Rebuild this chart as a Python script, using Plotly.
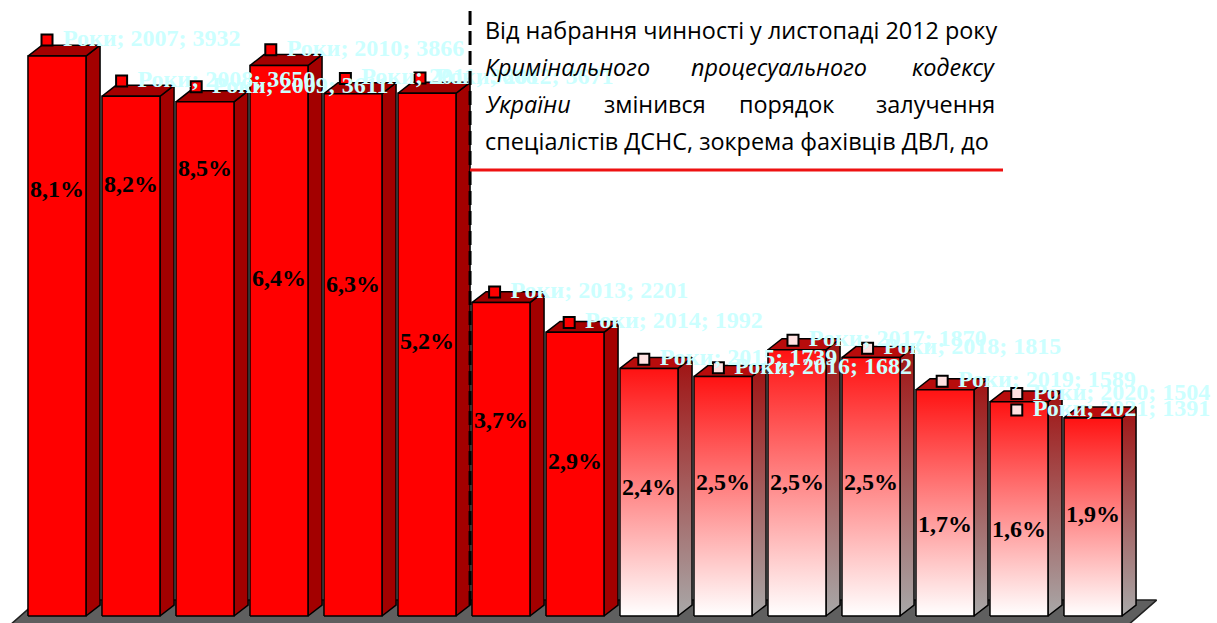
import plotly.graph_objects as go

# ---------------- data ----------------
years = [2007, 2008, 2009, 2010, 2011, 2012, 2013, 2014, 2015, 2016, 2017, 2018, 2019, 2020, 2021]
cases = [3932, 3650, 3611, 3866, 3668, 3671, 2201, 1992, 1739, 1682, 1870, 1815, 1589, 1504, 1391]
share_pct = [8.1, 8.2, 8.5, 6.4, 6.3, 5.2, 3.7, 2.9, 2.4, 2.5, 2.5, 2.5, 1.7, 1.6, 1.9]
share_labels = ["8,1%", "8,2%", "8,5%", "6,4%", "6,3%", "5,2%", "3,7%", "2,9%",
                "2,4%", "2,5%", "2,5%", "2,5%", "1,7%", "1,6%", "1,9%"]
label_slots = [0, 1, 2, 3, 4, 5, 6, 7, 8, 9, 10, 11, 12, 13, 13]
series_name = "Роки"
reform_year = 2012
gradient_from_year = 2015

note_line1 = "Від набрання чинності у листопаді 2012 року"
note_line2 = ["Кримінального", "процесуального", "кодексу"]
note_line3 = ["України", "змінився", "порядок", "залучення"]
note_line4 = "спеціалістів ДСНС, зокрема фахівців ДВЛ, до"

# ---------------- style ----------------
W, H = 1217, 623
bar_w = 0.784
depth_x = 0.19
depth_y = 77
RED = "#FF0000"
DARK = "#A30000"
EDGE = "black"

fig = go.Figure()
n = len(cases)

# floor
fx0, fx1 = -0.5 - 0.18, n - 0.5 - 0.07
fdx = 0.43
fy0, fy1 = -84, 112
fig.add_trace(go.Scatter(
    x=[fx0, fx1, fx1 + fdx, fx0 + fdx, fx0],
    y=[fy0, fy0, fy1, fy1, fy0],
    fill="toself", fillcolor="#5F5F5F", mode="lines",
    line=dict(color="#202020", width=1.5), hoverinfo="skip", showlegend=False))


def poly(xs, ys, **kw):
    fig.add_trace(go.Scatter(x=xs, y=ys, fill="toself", mode="lines",
                             line=dict(color=EDGE, width=1.5),
                             hoverinfo="skip", showlegend=False, **kw))


for i, (yr, v) in enumerate(zip(years, cases)):
    xl, xr = i - bar_w / 2, i + bar_w / 2
    side_x = [xr, xr + depth_x, xr + depth_x, xr, xr]
    side_y = [0, depth_y, v + depth_y, v, 0]
    top_x = [xl, xr, xr + depth_x, xl + depth_x, xl]
    top_y = [v, v, v + depth_y, v + depth_y, v]
    front_x = [xl, xr, xr, xl, xl]
    front_y = [0, 0, v, v, 0]
    if yr < gradient_from_year:
        poly(side_x, side_y, fillcolor=DARK)
        poly(top_x, top_y, fillcolor=DARK)
        poly(front_x, front_y, fillcolor=RED)
    else:
        poly(side_x, side_y, fillgradient=dict(type="vertical",
             colorscale=[[0, "#A8A8A8"], [1, "#A01212"]]))
        poly(top_x, top_y, fillcolor="#B80C0C")
        poly(front_x, front_y, fillgradient=dict(type="vertical",
             colorscale=[[0, "#FFFFFF"], [1, "#FF1212"]]))

# dashed separator after the reform year
sep_x = years.index(reform_year) + bar_w / 2 + depth_x
fig.add_shape(type="line", xref="x", yref="y", x0=sep_x, x1=sep_x,
              y0=depth_y, y1=4270,
              line=dict(color="black", width=3, dash="14px,6px"))

# markers + series labels
marker_colors = [RED if yr < gradient_from_year else "#FFE2E2" for yr in years]
fig.add_trace(go.Scatter(
    x=label_slots, y=cases, xaxis="x2", yaxis="y2",
    mode="markers+text",
    marker=dict(symbol="square", size=11, color=marker_colors,
                line=dict(color="black", width=2)),
    text=[f"\u2004{series_name}; {yr}; {v}" for yr, v in zip(years, cases)],
    textposition="middle right",
    textfont=dict(family="Liberation Serif", size=24, color="#CCFFFF", weight="bold"),
    hoverinfo="skip", showlegend=False))

# percentage labels
fig.add_trace(go.Scatter(
    x=list(range(n)), y=share_pct, xaxis="x", yaxis="y3",
    mode="text", text=share_labels, textposition="middle center",
    textfont=dict(family="Liberation Serif", size=24, color="black", weight="bold"),
    hoverinfo="skip", showlegend=False))

# note text box
tf = dict(family="Open Sans", size=23.4, color="black")


def px(x):
    return x / W


def py(y):
    return 1 - y / H


fig.add_annotation(x=px(483), y=py(30), xref="paper", yref="paper", text=note_line1,
                   showarrow=False, xanchor="left", yanchor="middle", font=tf)
l2_pos = [(483, "left"), (779, "center"), (997, "right")]
for word, (xp, anc) in zip(note_line2, l2_pos):
    fig.add_annotation(x=px(xp), y=py(67), xref="paper", yref="paper", text=f"<i>{word}</i>",
                       showarrow=False, xanchor=anc, yanchor="middle", font=tf)
l3_pos = [(483, "left"), (655, "center"), (786, "center"), (997, "right")]
for k, (word, (xp, anc)) in enumerate(zip(note_line3, l3_pos)):
    txt = f"<i>{word}</i>" if k == 0 else word
    fig.add_annotation(x=px(xp), y=py(104), xref="paper", yref="paper", text=txt,
                       showarrow=False, xanchor=anc, yanchor="middle", font=tf)
fig.add_annotation(x=px(483), y=py(141), xref="paper", yref="paper", text=note_line4,
                   showarrow=False, xanchor="left", yanchor="middle", font=tf)
fig.add_shape(type="line", xref="paper", yref="paper", x0=px(470), x1=px(1003),
              y0=py(170), y1=py(170), line=dict(color="#EE1111", width=3))

fig.update_layout(
    width=W, height=H, margin=dict(l=0, r=0, t=0, b=0),
    paper_bgcolor="white", plot_bgcolor="white", showlegend=False,
    xaxis=dict(range=[-0.770, 15.676], visible=False, fixedrange=True),
    yaxis=dict(range=[-49, 4326], visible=False, fixedrange=True),
    xaxis2=dict(range=[-0.630, 15.684], visible=False, overlaying="x"),
    yaxis2=dict(range=[-72, 4207], visible=False, overlaying="y"),
    yaxis3=dict(range=[-0.153, 11.76], visible=False, overlaying="y"),
)

fig.write_html("out.html", config={"displayModeBar": False},
               post_script="document.body.style.margin='0';")
